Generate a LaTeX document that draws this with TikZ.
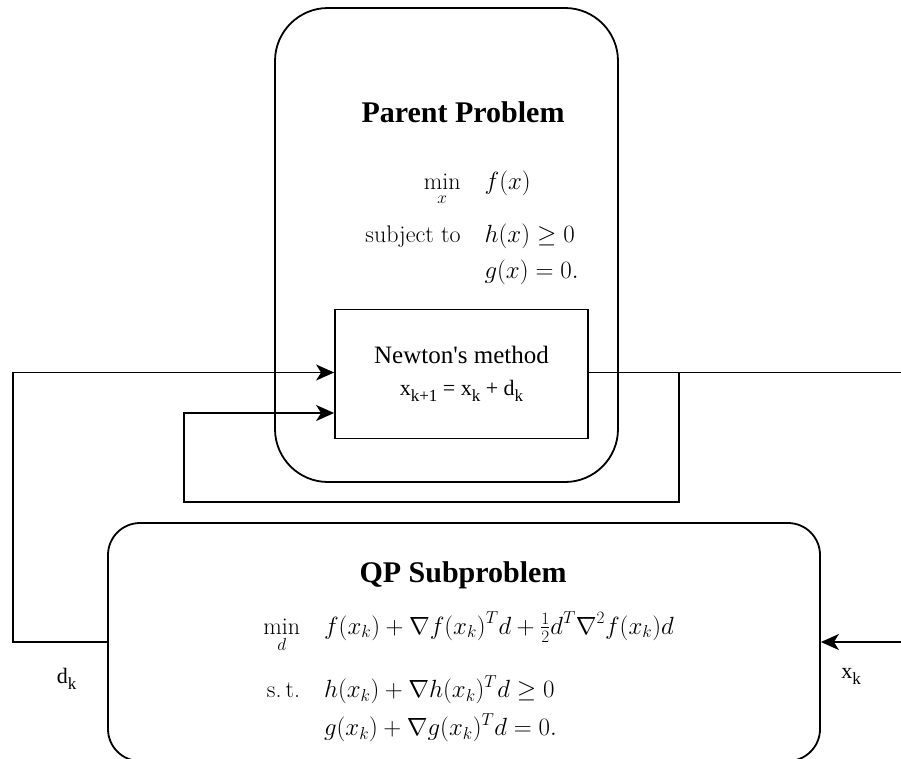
\documentclass[tikz,border=0pt]{standalone}
\usepackage{amsmath,amssymb}
\usepackage{fontspec}
\usepackage{tikz}
\usetikzlibrary{arrows.meta}
\newfontfamily\timesfont{Liberation Serif}
\newcommand{\lsub}[1]{\raisebox{-6pt}{\fontsize{17}{20}\selectfont #1}}

\tikzset{
  box/.style={draw, line width=1.8pt, inner sep=0pt},
  conn/.style={line width=1.8pt},
  arr/.style={conn, -{Stealth[length=18pt,width=16pt,inset=5pt]}},
  title/.style={font=\timesfont\bfseries\fontsize{30}{36}\selectfont, anchor=base},
  lbl/.style={font=\timesfont\fontsize{22}{26}\selectfont, anchor=base},
  maths/.style={font=\fontsize{24}{33}\selectfont, anchor=base, inner sep=0pt}
}

\begin{document}
\begin{tikzpicture}[x=1pt, y=-1pt]
%\draw [very thin, gray] (0,0) grid[step=50] (901,758);
\useasboundingbox (0,0) rectangle (901,758);
\clip (0,0) rectangle (901,758);
% boxes
\node[box, rounded corners=53pt, minimum width=343pt, minimum height=474pt] (parent) at (446.5,245) {};
\node[box, minimum width=253pt, minimum height=129pt, align=center, font=\timesfont\fontsize{25}{32}\selectfont] (newton) at (461.5,374) {Newton's method\\ {\fontsize{22}{32}\selectfont x\lsub{k+1} = x\lsub{k} + d\lsub{k}}};
\node[box, rounded corners=32pt, minimum width=712pt, minimum height=238pt] (qp) at (464,642) {};
% titles and problems
\node[title] (ptitle) at (463,122) {Parent Problem};
\node[maths] (pmath) at (472,189) {$\begin{aligned}[t]
  \min\limits_{x} &\quad f(x)\\[10pt]
  \text{subject to} &\quad h(x)\geq 0\\
  &\quad g(x) = 0.
\end{aligned}$};
\node[title] (qtitle) at (463,582) {QP Subproblem};
\node[maths] (qmath) at (468.5,634) {$\begin{aligned}[t]
  \min\limits_{d} &\quad f(x_k) + \nabla f(x_k)^T d + \tfrac{1}{2} d^T \nabla^2 f(x_k) d\\[18pt]
  \text{s.\,t.} &\quad h(x_k) + \nabla h(x_k)^T d \geq 0\\[2pt]
  &\quad g(x_k) + \nabla g(x_k)^T d = 0.
\end{aligned}$};
% step d_k back to Newton
\coordinate (dkturn) at (13,642);
\draw[arr] (qp.west) -- (dkturn) |- ([yshift=1.5pt]newton.west);
\node[lbl] (dk) at (66.5,683) {d\lsub{k}};
% iterate out, and fed back
\coordinate (outR) at (901,372.5);
\draw[conn] ([yshift=1.5pt]newton.east) -- (outR);
\coordinate (fbsplit) at (679,372.5);
\coordinate (fbturn) at (184,502);
\draw[arr] (fbsplit) |- (fbturn) |- ([yshift=-39pt]newton.west);
% x_k into QP
\coordinate (inR) at (901,642);
\draw[arr] (inR) -- (qp.east);
\node[lbl] (xk) at (851,678) {x\lsub{k}};
\end{tikzpicture}
\end{document}
